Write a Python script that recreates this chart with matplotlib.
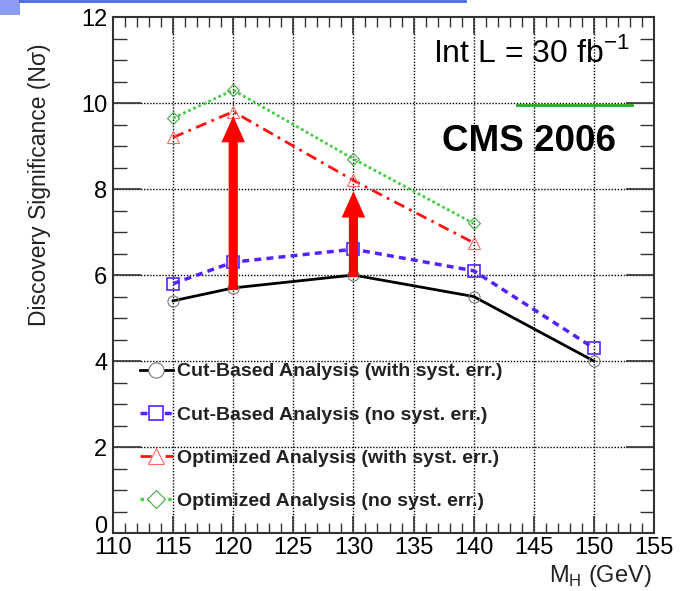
import numpy as np
import matplotlib
matplotlib.use("Agg")
import matplotlib.pyplot as plt
import matplotlib.transforms as mtransforms
from matplotlib.lines import Line2D
from matplotlib.patches import Rectangle
from matplotlib.ticker import MultipleLocator

plt.rcParams['font.family'] = ['Liberation Sans', 'DejaVu Sans']

#%% dados: significancia vs massa do Higgs
mh = [115, 120, 130, 140, 150]
cut_syst = [5.4, 5.7, 6.0, 5.5, 4.0]
cut_nosyst = [5.8, 6.3, 6.6, 6.1, 4.3]
mh_opt = [115, 120, 130, 140]
opt_syst = [9.2, 9.8, 8.2, 6.75]
opt_nosyst = [9.65, 10.3, 8.7, 7.2]

labels = ["Cut-Based Analysis (with syst. err.)",
          "Cut-Based Analysis (no syst. err.)",
          "Optimized Analysis (with syst. err.)",
          "Optimized Analysis (no syst. err.)"]

# setas de ganho
arrow_x = [120, 130]
arrow_from = [5.65, 5.95]
arrow_to = [9.7, 7.95]

# tracinho verde
green_seg_x = [143.6, 153.2]
green_seg_y = [9.95, 9.95]

#%% figura
fig = plt.figure(figsize=(6.95, 5.91), dpi=100)
ax = fig.add_axes([0.1626, 0.0981, 0.7784, 0.8731])

ax.set_xlim(110, 155)
ax.set_ylim(0, 12)

# grade pontilhada
for gx in range(115, 155, 5):
    ax.axvline(gx, color='black', ls=(0, (1, 1.2)), lw=1.0, zorder=1)
for gy in range(2, 12, 2):
    ax.axhline(gy, color='black', ls=(0, (1, 1.2)), lw=1.0, zorder=1)

ax.plot(mh, cut_syst, color='black', lw=2, ls='-', marker='o', ms=8,
        mfc='none', mec='#777777', mew=0.8, zorder=3)
ax.plot(mh, cut_nosyst, color='#5522ff', lw=2.5, ls=(0, (2, 1.5)),
        marker='s', ms=8, mfc='none', mec='#5522ff', mew=1.2, zorder=3)
ax.plot(mh_opt, opt_syst, color='#ff1111', lw=2, ls=(0, (4, 2, 1, 2)),
        marker='^', ms=9, mfc='none', mec='#ff6666', mew=0.8, zorder=3)
ax.plot(mh_opt, opt_nosyst, color='#44cc44', lw=2, ls=(0, (1, 1)),
        marker='D', ms=6, mfc='none', mec='#44aa44', mew=0.8, zorder=3)

ax.plot(green_seg_x, green_seg_y, color='#22aa22', lw=2, zorder=2)

for x, y0, y1 in zip(arrow_x, arrow_from, arrow_to):
    ax.annotate('', xy=(x, y1), xytext=(x, y0),
                arrowprops=dict(arrowstyle='simple,head_length=0.95,head_width=0.85,tail_width=0.33',
                                mutation_scale=20, color='#ff0000', lw=0,
                                shrinkA=0, shrinkB=0), zorder=4)

# legenda sem moldura
handles = [
    Line2D([], [], color='black', lw=2, marker='o', ms=11, mfc='white', mec='#777777', mew=0.8),
    Line2D([], [], color='#5522ff', lw=2.5, ls=(0, (2, 1.5)), marker='s', ms=10,
           mfc='white', mec='#5522ff', mew=1.2),
    Line2D([], [], color='#ff1111', lw=2, ls=(0, (4, 2, 1, 2)), marker='^', ms=12,
           mfc='white', mec='#ff6666', mew=0.8),
    Line2D([], [], color='#44cc44', lw=2.5, ls=(0, (1, 1)), marker='D', ms=9,
           mfc='white', mec='#44aa44', mew=0.8),
]
leg = ax.legend(handles, labels, loc='upper left', bbox_to_anchor=(0.035, 0.345),
                frameon=False, handlelength=1.7, handletextpad=0.2,
                labelspacing=1.32, prop={'weight': 'bold', 'size': 14},
                borderaxespad=0)
for t in leg.get_texts():
    t.set_color('#222222')

ax.text(0.955, 0.93, "Int L = 30 fb$^{\\mathregular{-1}}$", transform=ax.transAxes,
        ha='right', va='center', fontsize=23)
ax.text(0.769, 0.758, "CMS 2006", transform=ax.transAxes,
        ha='center', va='center', fontsize=26.5, weight='bold')

# eixos
ax.xaxis.set_major_locator(MultipleLocator(5))
ax.xaxis.set_minor_locator(MultipleLocator(1))
ax.yaxis.set_major_locator(MultipleLocator(2))
ax.yaxis.set_minor_locator(MultipleLocator(0.5))
ax.tick_params(which='both', direction='in', top=True, right=True, labelsize=17,
               color='#333333')
ax.tick_params(which='major', length=20, width=1.2)
ax.tick_params(which='minor', length=10, width=1.0)
ax.tick_params(axis='x', which='major', length=12, pad=3)
ax.tick_params(axis='x', which='minor', length=7)
ax.tick_params(axis='y', pad=4)
for s in ax.spines.values():
    s.set_linewidth(1.5)
    s.set_color('#333333')

ax.set_ylabel("Discovery Significance (N\u03c3)", fontsize=16.5, color='#222222')
ax.yaxis.set_label_coords(-0.115, 0.674)
ax.set_xlabel("M$_{\\mathregular{H}}$ (GeV)", fontsize=17, color='#222222')
ax.xaxis.set_label_coords(0.995, -0.058)
ax.xaxis.label.set_ha('right')

# o "0" do eixo y sobe um pouco pra nao colar no 110
fig.canvas.draw()
for lbl in ax.get_yticklabels():
    if lbl.get_text() == '0':
        lbl.set_transform(lbl.get_transform() +
                          mtransforms.ScaledTranslation(0, 6 / 72, fig.dpi_scale_trans))

# enfeites do slide no topo
fig.patches.append(Rectangle((0, 1 - 15 / 591), 20 / 695, 15 / 591,
                             transform=fig.transFigure, color='#8c9cf5', lw=0))
fig.lines.append(Line2D([20 / 695, 465 / 695], [1 - 1 / 591, 1 - 1 / 591],
                        transform=fig.transFigure, color='#4466ee', lw=2))

fig.savefig("out.png", dpi=100)
